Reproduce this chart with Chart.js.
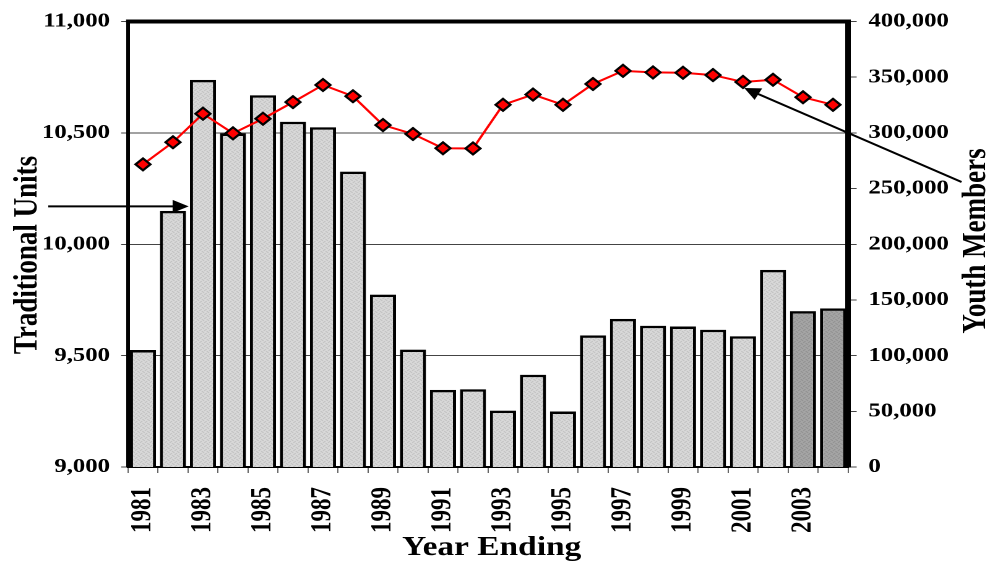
<!DOCTYPE html>
<html>
<head>
<meta charset="utf-8">
<script src="https://cdn.jsdelivr.net/npm/chart.js@4.4.0/dist/chart.umd.min.js"></script>
<style>
  html, body { margin: 0; padding: 0; background: #fff; }
  canvas { display: block; }
</style>
</head>
<body>
<!-- the chart is drawn 800 wide and shown 990 wide, like the stretched original -->
<canvas id="chart" width="800" height="564" style="width:990px;height:564px"></canvas>
<script>
// Data
const years = ['1981', '1982', '1983', '1984', '1985', '1986', '1987', '1988', '1989', '1990', '1991', '1992',
  '1993', '1994', '1995', '1996', '1997', '1998', '1999', '2000', '2001', '2002', '2003', '2004'];
const traditionalUnits = [9525, 10150, 10738, 10497, 10669, 10550, 10525, 10326, 9774, 9527, 9346, 9349,
  9253, 9414, 9249, 9591, 9665, 9634, 9631, 9616, 9587, 9885, 9700, 9712];
const youthMembers = [271700, 291600, 317200, 299600, 312700, 327600, 343000, 332900, 307000, 299000, 286200, 286000,
  325200, 334400, 325200, 343900, 355700, 354300, 354000, 351900, 345700, 347700, 332000, 325200];
const shadedYears = ['2003', '2004'];
const unitTicks = [9000, 9500, 10000, 10500, 11000];
const youthTicks = [0, 50000, 100000, 150000, 200000, 250000, 300000, 350000, 400000];

const SERIF = '"Liberation Serif", "Times New Roman", serif';
const fmt = v => Number(v).toLocaleString('en-US');

// dotted grey fill like the original bars
function makePattern(base, dot) {
  const c = document.createElement('canvas');
  c.width = 4; c.height = 4;
  const g = c.getContext('2d');
  g.fillStyle = base;
  g.fillRect(0, 0, 4, 4);
  g.fillStyle = dot;
  [[0, 0], [2, 1], [1, 2], [3, 3]].forEach(([x, y]) => g.fillRect(x, y, 1, 1));
  return g.createPattern(c, 'repeat');
}
const lightFill = makePattern('#dcdcdc', '#b4b4b4');
const darkFill = makePattern('#a8a8a8', '#868686');

function drawArrow(ctx, x1, y1, x2, y2) {
  const ang = Math.atan2(y2 - y1, x2 - x1);
  const len = 13, hw = 6.5;
  ctx.beginPath();
  ctx.moveTo(x1, y1);
  ctx.lineTo(x2 - Math.cos(ang) * len * 0.8, y2 - Math.sin(ang) * len * 0.8);
  ctx.stroke();
  ctx.beginPath();
  ctx.moveTo(x2, y2);
  ctx.lineTo(x2 - len * Math.cos(ang) + hw * Math.sin(ang), y2 - len * Math.sin(ang) - hw * Math.cos(ang));
  ctx.lineTo(x2 - len * Math.cos(ang) - hw * Math.sin(ang), y2 - len * Math.sin(ang) + hw * Math.cos(ang));
  ctx.closePath();
  ctx.fill();
}

// frame top, arrows and axis titles
const decorations = {
  id: 'decorations',
  afterDraw(chart) {
    const { ctx, chartArea: a, scales } = chart;
    ctx.save();
    ctx.fillStyle = '#000';
    ctx.strokeStyle = '#000';
    ctx.fillRect(a.left - 1.5, a.top - 2, a.right - a.left + 3.5, 4);

    ctx.lineWidth = 1.9;
    const bar = chart.getDatasetMeta(0).data[2];
    const arrowY = scales.y.getPixelForValue(10170);
    drawArrow(ctx, 39, arrowY, bar.x - bar.width / 2 - 1, arrowY);
    const pt = chart.getDatasetMeta(1).data[20];
    drawArrow(ctx, 777, 182, pt.x + 1, pt.y + 6);

    ctx.font = 'bold 27px ' + SERIF;
    ctx.textAlign = 'center';
    ctx.textBaseline = 'middle';
    ctx.fillText('Year Ending', (a.left + a.right) / 2 + 3, 548);
    ctx.save();
    ctx.translate(22.5, 255);
    ctx.rotate(-Math.PI / 2);
    ctx.fillText('Traditional Units', 0, 0);
    ctx.restore();
    ctx.save();
    ctx.translate(789, 241);
    ctx.rotate(-Math.PI / 2);
    ctx.fillText('Youth Members', 0, 0);
    ctx.restore();
    ctx.restore();
  }
};

new Chart(document.getElementById('chart'), {
  type: 'bar',
  data: {
    labels: years,
    datasets: [
      {
        type: 'bar',
        label: 'Traditional Units',
        data: traditionalUnits,
        yAxisID: 'y',
        order: 1,
        backgroundColor: years.map(y => shadedYears.includes(y) ? darkFill : lightFill),
        borderColor: '#000',
        borderWidth: 2.5,
        barPercentage: 0.87,
        categoryPercentage: 1
      },
      {
        type: 'line',
        label: 'Youth Members',
        data: youthMembers,
        yAxisID: 'y1',
        order: 0,
        borderColor: '#ff0000',
        borderWidth: 2,
        tension: 0,
        pointStyle: 'rectRot',
        pointRadius: 6,
        pointBorderWidth: 2,
        pointBackgroundColor: '#ff0000',
        pointBorderColor: '#000'
      }
    ]
  },
  options: {
    responsive: false,
    devicePixelRatio: 2,
    animation: false,
    layout: { padding: { top: 18, left: 0, right: 0, bottom: 0 } },
    plugins: { legend: { display: false }, tooltip: { enabled: false } },
    scales: {
      x: {
        afterFit: s => { s.height = 97; },
        grid: { offset: true, drawOnChartArea: false, drawTicks: true, tickLength: 6, color: '#666', lineWidth: 1 },
        border: { color: '#000', width: 2 },
        ticks: {
          autoSkip: false,
          minRotation: 90,
          maxRotation: 90,
          padding: 14,
          color: '#000',
          font: { family: SERIF, size: 23, weight: 'bold' },
          callback: function (v, i) { return i % 2 === 0 ? this.getLabelForValue(v) : ''; }
        }
      },
      y: {
        position: 'left',
        min: unitTicks[0],
        max: unitTicks[unitTicks.length - 1],
        afterFit: s => { s.width = 103.4; },
        grid: { color: '#444', lineWidth: 1, tickLength: 5.5 },
        border: { color: '#000', width: 3 },
        ticks: {
          stepSize: unitTicks[1] - unitTicks[0],
          padding: 9,
          color: '#000',
          font: { family: SERIF, size: 20, weight: 'bold' },
          callback: fmt
        }
      },
      y1: {
        position: 'right',
        min: youthTicks[0],
        max: youthTicks[youthTicks.length - 1],
        afterFit: s => { s.width = 114.75; },
        grid: { drawOnChartArea: false, color: '#444', lineWidth: 1, tickLength: 7 },
        border: { color: '#000', width: 4.5 },
        ticks: {
          stepSize: youthTicks[1] - youthTicks[0],
          padding: 9.5,
          color: '#000',
          font: { family: SERIF, size: 20, weight: 'bold' },
          callback: fmt
        }
      }
    }
  },
  plugins: [decorations]
});
</script>
</body>
</html>
